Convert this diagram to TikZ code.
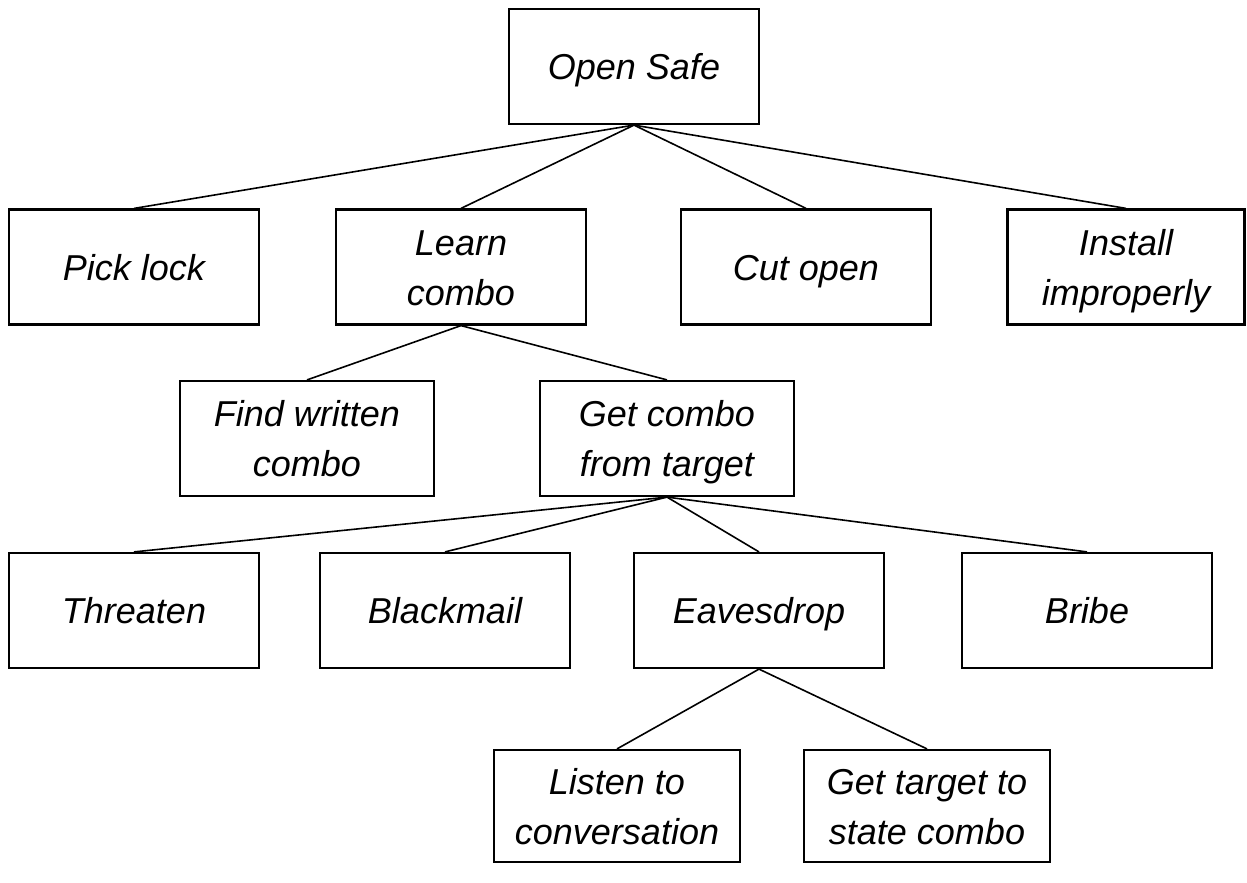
\documentclass[tikz,border=0pt]{standalone}
\usepackage{fontspec}
\setmainfont{Liberation Sans}
\newcommand\ms{\rule[-6pt]{0pt}{25pt}}
\begin{document}
\begin{tikzpicture}[x=0.5pt,y=-0.5pt,
  box/.style={draw, line width=1.1pt, minimum width=125pt, minimum height=57.5pt,
    inner sep=0pt, align=center, font=\itshape\fontsize{18}{25}\selectfont},
  link/.style={line width=0.8pt}]
\useasboundingbox (0,0) rectangle (1247,883);
\node[box] (safe) at (634,66.5) {\ms Open Safe};
\node[box] (pick) at (134,267) {\ms Pick lock};
\node[box] (learn) at (461,267) {\ms Learn\\\ms combo};
\node[box] (cut) at (806,267) {\ms Cut open};
\node[box, minimum width=118.5pt] (install) at (1126,267) {\ms Install\\\ms improperly};
\node[box, minimum width=127pt] (find) at (307,438.5) {\ms Find written\\\ms combo};
\node[box, minimum width=127pt] (get) at (667,438.5) {\ms Get combo\\\ms from target};
\node[box] (threaten) at (134,610.5) {\ms Threaten};
\node[box] (blackmail) at (445,610.5) {\ms Blackmail};
\node[box] (eaves) at (759,610.5) {\ms Eavesdrop};
\node[box] (bribe) at (1087,610.5) {\ms Bribe};
\node[box, minimum width=123pt, minimum height=56pt] (listen) at (617,806) {\ms Listen to\\\ms conversation};
\node[box, minimum width=123pt, minimum height=56pt] (state) at (927,806) {\ms Get target to\\\ms state combo};
\foreach \c in {pick,learn,cut,install} \draw[link] (safe.south) -- (\c.north);
\foreach \c in {find,get} \draw[link] (learn.south) -- (\c.north);
\foreach \c in {threaten,blackmail,eaves,bribe} \draw[link] (get.south) -- (\c.north);
\foreach \c in {listen,state} \draw[link] (eaves.south) -- (\c.north);
\end{tikzpicture}
\end{document}
